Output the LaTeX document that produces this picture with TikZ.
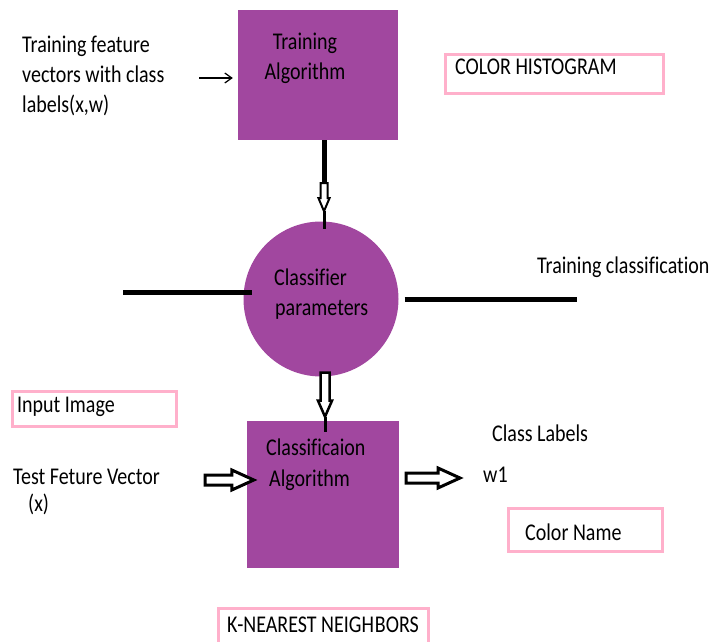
\documentclass[tikz,border=0pt]{standalone}
\usepackage{fontspec}
\setmainfont{Carlito}[Ligatures=NoCommon]
\usetikzlibrary{calc,arrows.meta}
\definecolor{boxpurple}{HTML}{A1479F}
\definecolor{boxpink}{HTML}{FFB0CB}
\newcommand{\tallt}[1]{\scalebox{1}[1.2]{#1}}
\begin{document}
\begin{tikzpicture}[x=1pt,y=-1pt,
  lbl/.style={inner sep=0pt, anchor=base west, font=\fontsize{20}{24}\selectfont, text=black},
  clbl/.style={lbl, anchor=base},
  pbox/.style={fill=boxpurple, draw=none, inner sep=0pt},
  pinkbox/.style={draw=boxpink, line width=3pt, fill=white, inner sep=0pt},
  thickline/.style={draw=black, line width=5pt},
  hollow/.style={draw=black, line width=3pt, fill=white, line join=miter},
]
\useasboundingbox (0,0) rectangle (713,642);
\clip (0,0) rectangle (713,642);

% main shapes
\node[pbox, minimum width=160pt, minimum height=130pt] (ta) at (318,75) {};
\node[pbox, circle, minimum size=155pt] (cp) at (321,299) {};
\node[pbox, minimum width=152pt, minimum height=147pt] (cb) at (323,494.5) {};

% pink boxes
\node[pinkbox, minimum width=218pt, minimum height=39pt] (ch) at (554.5,74) {};
\node[pinkbox, minimum width=164pt, minimum height=35pt] (ii) at (94.5,409) {};
\node[pinkbox, minimum width=154pt, minimum height=43pt] (cn) at (585.5,530) {};
\node[pinkbox, minimum width=210pt, minimum height=63pt] (kn) at (323.5,640) {};

% texts
\node[lbl] (tf1) at (22,53) {\tallt{Training feature}};
\node[lbl] (tf2) at (22,83) {\tallt{vectors with class}};
\node[lbl] (tf3) at (22,113) {\tallt{labels(x,w)}};
\node[clbl] (ta1) at (305,50) {\tallt{Training}};
\node[clbl] (ta2) at (305,80) {\tallt{Algorithm}};
\node[lbl] (cp1) at (274,285) {\tallt{Classifier}};
\node[lbl] (cp2) at (275,315) {\tallt{parameters}};
\node[lbl] (tc) at (537,273) {\tallt{Training classification}};
\node[lbl] (iit) at (17,412) {\tallt{Input Image}};
\node[lbl] (tv1) at (13,484) {\tallt{Test Feture Vector}};
\node[lbl] (tv2) at (28,511) {\tallt{(x)}};
\node[lbl] (cb1) at (266,455) {\tallt{Classificaion}};
\node[lbl] (cb2) at (269,486) {\tallt{Algorithm}};
\node[lbl] (cl) at (492,441) {\tallt{Class Labels}};
\node[lbl] (w1) at (483,482) {\tallt{w1}};
\node[lbl] (cnt) at (525,540) {\tallt{Color Name}};
\node[lbl] (cht) at (455,75) {\tallt{COLOR HISTOGRAM}};
\node[lbl] (knt) at (227,632) {\tallt{K-NEAREST NEIGH\kern1pt BORS}};

% thin arrow into training algorithm
\coordinate (tfin) at (199,78);
\draw[line width=1.2pt, -{Straight Barb[length=7pt,width=10pt]}, shorten >=5pt] (tfin) -- (tfin -| ta.west);

% connector training algorithm -> classifier parameters
\coordinate (s1) at ($(ta.south)+(6,0)$);
\coordinate (e1) at ($(s1)+(0,45)$);
\draw[thickline] (s1) -- (e1);
\coordinate (h1) at ($(e1)+(0,-2)$);
\coordinate (t1) at ($(h1)+(0,28)$);
\draw[black, line width=3pt] (t1) -- ($(s1 |- cp.north)+(0,8)$);
\draw[hollow, line width=2pt] ($(h1)+(-3.5,0)$) -- ($(t1)+(-3.5,-13)$) -- ($(t1)+(-5.5,-13)$) -- (t1) -- ($(t1)+(5.5,-13)$) -- ($(t1)+(3.5,-13)$) -- ($(h1)+(3.5,0)$) -- cycle;

% side lines of classifier parameters
\coordinate (pl) at (123,292);
\draw[thickline] (pl) -- ($(pl -| cp.west)+(9,0)$);
\coordinate (pr) at (577,299);
\draw[thickline] ($(cp.east)+(6,0)$) -- (pr);

% classifier parameters -> classification algorithm
\coordinate (s2) at ($(cp.south)+(4,-4)$);
\coordinate (t2) at ($(s2)+(0,44)$);
\draw[black, line width=3pt] (t2) -- ($(s2 |- cb.north)+(0,11)$);
\draw[hollow, line width=2.5pt] ($(s2)+(-4.5,0)$) -- ($(t2)+(-4.5,-16)$) -- ($(t2)+(-7,-16)$) -- (t2) -- ($(t2)+(7,-16)$) -- ($(t2)+(4.5,-16)$) -- ($(s2)+(4.5,0)$) -- cycle;

% test feature vector -> classification algorithm
\coordinate (s3) at (205,480);
\coordinate (t3) at ($(s3 -| cb.west)+(7,0)$);
\draw[hollow] ($(s3)+(0,-5)$) -- ($(t3)+(-22,-5)$) -- ($(t3)+(-22,-10)$) -- (t3) -- ($(t3)+(-22,10)$) -- ($(t3)+(-22,5)$) -- ($(s3)+(0,5)$) -- cycle;

% classification algorithm -> class labels
\coordinate (s4) at ($(cb.east |- 0,478)+(7,0)$);
\coordinate (t4) at (460,478);
\draw[hollow] ($(s4)+(0,-5)$) -- ($(t4)+(-22,-5)$) -- ($(t4)+(-22,-10)$) -- (t4) -- ($(t4)+(-22,10)$) -- ($(t4)+(-22,5)$) -- ($(s4)+(0,5)$) -- cycle;
\end{tikzpicture}
\end{document}
